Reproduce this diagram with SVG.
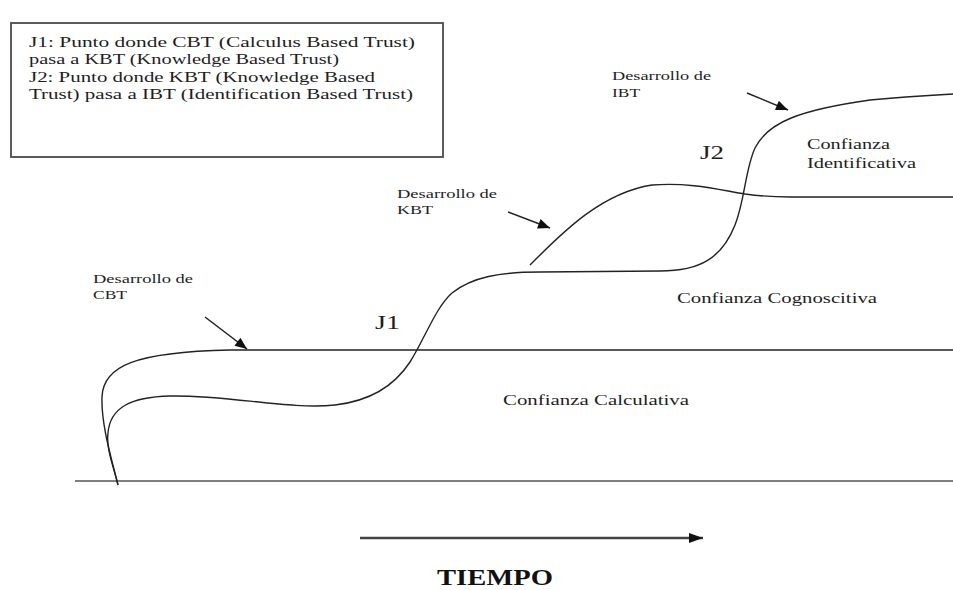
<svg xmlns="http://www.w3.org/2000/svg" width="953" height="590" viewBox="0 0 953 590" font-family="Liberation Serif, DejaVu Serif, serif">
<style>
  .box { fill: #ffffff; stroke: #4a4a4a; stroke-width: 1.8; }
  .note { font-size: 15px; fill: #1e1e1e; }
  .lbl { font-size: 12.5px; fill: #1e1e1e; }
  .j { font-size: 18px; fill: #1e1e1e; }
  .zone { font-size: 15.5px; fill: #1e1e1e; }
  .time { font-size: 23px; font-weight: bold; fill: #111; }
  .curve { fill: none; stroke: #222; stroke-width: 1.4; }
  .hline { fill: none; stroke: #555; stroke-width: 1.4; }
  .arr { fill: none; stroke: #222; stroke-width: 1.5; marker-end: url(#head); }
  .tarr { fill: none; stroke: #444; stroke-width: 2.5; marker-end: url(#thead); }
</style>
<defs>
  <marker id="head" markerUnits="userSpaceOnUse" viewBox="0 0 12 10" refX="12" refY="5" markerWidth="13" markerHeight="10" orient="auto">
    <path d="M0,0 L12,5 L0,10 Z" fill="#111"/>
  </marker>
  <marker id="thead" markerUnits="userSpaceOnUse" viewBox="0 0 14 10" refX="14" refY="5" markerWidth="15" markerHeight="10" orient="auto">
    <path d="M0,0 L14,5 L0,10 Z" fill="#111"/>
  </marker>
</defs>
<rect width="953" height="590" fill="#ffffff"/>

<g id="legend">
  <rect class="box" x="11" y="23" width="432" height="134"/>
  <text class="note" x="29" y="47" textLength="386" lengthAdjust="spacingAndGlyphs">J1: Punto donde CBT (Calculus Based Trust)</text>
  <text class="note" x="29" y="64" textLength="310" lengthAdjust="spacingAndGlyphs">pasa a KBT (Knowledge Based Trust)</text>
  <text class="note" x="29" y="82" textLength="346" lengthAdjust="spacingAndGlyphs">J2: Punto donde KBT (Knowledge Based</text>
  <text class="note" x="29" y="99" textLength="384" lengthAdjust="spacingAndGlyphs">Trust) pasa a IBT (Identification Based Trust)</text>
</g>

<g id="baselines">
  <path class="hline" d="M75,481 L953,481"/>
</g>

<g id="connectors">
  <path class="curve" d="M118,485 C112,460 101,425 102,397 C103,366 135,352 230,350 L953,350"/>
  <path class="curve" d="M118,485 C113,465 106,448 108,433 C110,408 130,397 170,396 C230,395 290,410 335,405 C370,401 395,385 410,362 C425,338 436,307 452,293 C472,277 500,272 540,272 L660,271 C700,271 722,258 735,225 C745,200 745,170 755,148 C768,122 800,110 870,100 C910,96 935,95 953,94"/>
  <path class="curve" d="M530,265 C560,235 600,193 652,185 C690,182 720,190 745,194 C760,196 770,197 790,197 L953,197"/>
  <path class="arr" d="M205,317 L247,349"/>
  <path class="arr" d="M508,212 L550,228"/>
  <path class="arr" d="M747,93 L788,110"/>
  <path class="tarr" d="M360,538 L703,538"/>
</g>

<g id="label-cbt">
  <text class="lbl" x="93" y="283" textLength="100" lengthAdjust="spacingAndGlyphs">Desarrollo de</text>
  <text class="lbl" x="93" y="299" textLength="34" lengthAdjust="spacingAndGlyphs">CBT</text>
</g>
<g id="label-kbt">
  <text class="lbl" x="397" y="198" textLength="100" lengthAdjust="spacingAndGlyphs">Desarrollo de</text>
  <text class="lbl" x="397" y="214" textLength="36" lengthAdjust="spacingAndGlyphs">KBT</text>
</g>
<g id="label-ibt">
  <text class="lbl" x="612" y="80" textLength="99" lengthAdjust="spacingAndGlyphs">Desarrollo de</text>
  <text class="lbl" x="612" y="97" textLength="28" lengthAdjust="spacingAndGlyphs">IBT</text>
</g>
<g id="j1"><text class="j" x="375" y="329" textLength="25" lengthAdjust="spacingAndGlyphs">J1</text></g>
<g id="j2"><text class="j" x="700" y="159" textLength="24" lengthAdjust="spacingAndGlyphs">J2</text></g>

<g id="zone-identificativa">
  <text class="zone" x="807" y="149" textLength="83" lengthAdjust="spacingAndGlyphs">Confianza</text>
  <text class="zone" x="807" y="168" textLength="109" lengthAdjust="spacingAndGlyphs">Identificativa</text>
</g>
<g id="zone-cognoscitiva">
  <text class="zone" x="677" y="303" textLength="200" lengthAdjust="spacingAndGlyphs">Confianza Cognoscitiva</text>
</g>
<g id="zone-calculativa">
  <text class="zone" x="503" y="405" textLength="186" lengthAdjust="spacingAndGlyphs">Confianza Calculativa</text>
</g>
<g id="tiempo">
  <text class="time" x="437" y="585" textLength="116" lengthAdjust="spacingAndGlyphs">TIEMPO</text>
</g>
</svg>
